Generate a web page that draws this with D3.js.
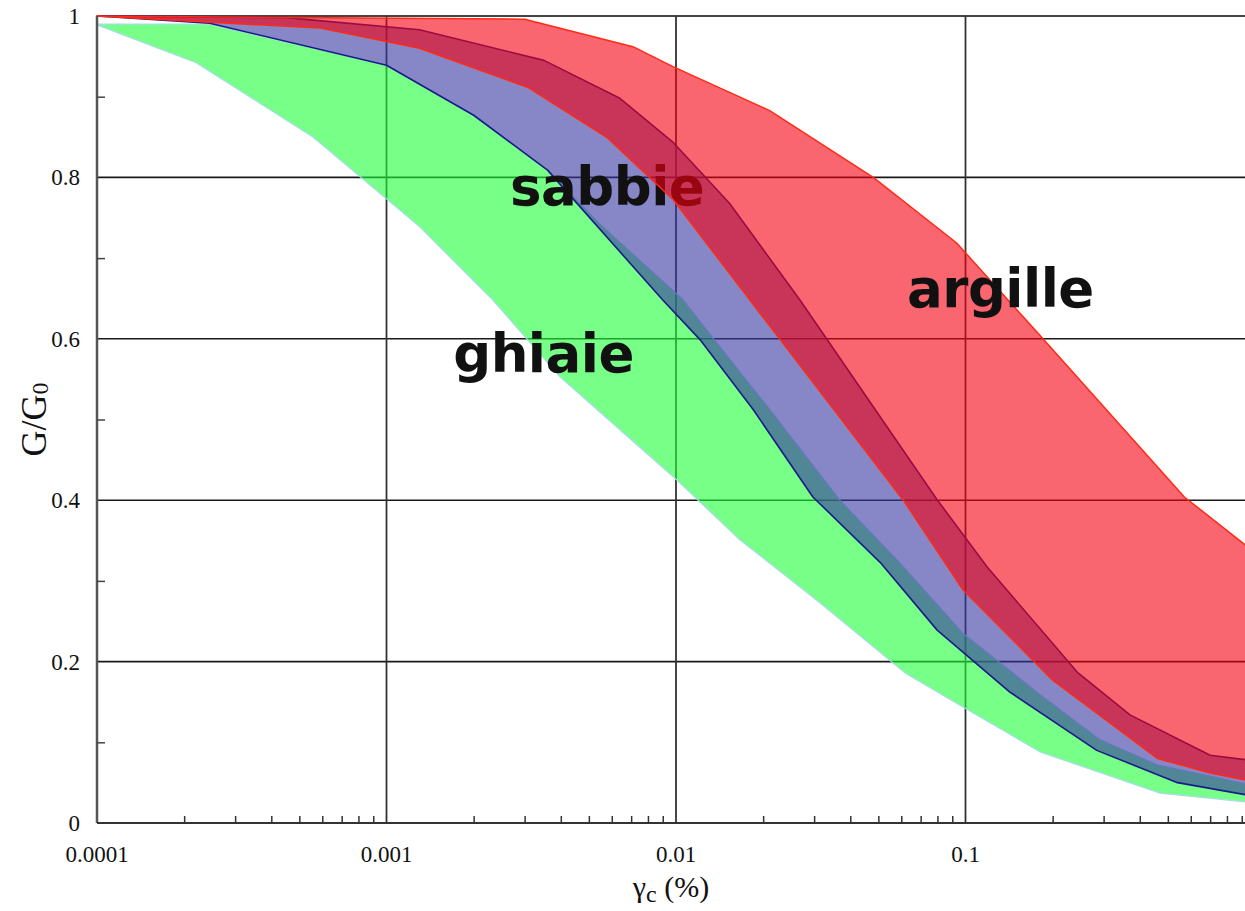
<!DOCTYPE html>
<html>
<head>
<meta charset="utf-8">
<script src="https://cdn.jsdelivr.net/npm/d3@7"></script>
<style>
    body { margin: 0; background: #fff; }
    svg { display: block; }
    .tick-label { font-family: "Liberation Serif", "Times New Roman", serif; font-size: 23px; fill: #111; }
    .band-label { font-family: "DejaVu Sans", sans-serif; font-weight: bold; font-size: 53px; fill: #111; letter-spacing: -0.5px; }
</style>
</head>
<body>
<script>

//Ticks and labels
var xTickValues = [0.0001, 0.001, 0.01, 0.1];
var xTickLabels = ["0.0001", "0.001", "0.01", "0.1"];
var yTickValues = [0, 0.2, 0.4, 0.6, 0.8, 1];
var yTickLabels = ["0", "0.2", "0.4", "0.6", "0.8", "1"];
var yMinorValues = [0.1, 0.3, 0.5, 0.7, 0.9];

//Argille (clay) band: upper and lower limit curves
var argilleUpX = [0.0001, 0.003, 0.0071, 0.0098, 0.021, 0.048, 0.093, 0.18, 0.57, 1];
var argilleUpY = [1.0, 0.996, 0.962, 0.937, 0.883, 0.800, 0.719, 0.605, 0.404, 0.335];
var argilleLowX = [0.0001, 0.00059, 0.0013, 0.0031, 0.0058, 0.0098, 0.018, 0.061, 0.098, 0.20, 0.46, 0.70, 1];
var argilleLowY = [1.0, 0.985, 0.960, 0.911, 0.849, 0.772, 0.648, 0.400, 0.289, 0.177, 0.080, 0.062, 0.051];

//Sabbie (sand) band
var sabbieUpX = [0.0001, 0.00045, 0.0013, 0.0035, 0.0064, 0.0098, 0.0153, 0.0268, 0.080, 0.119, 0.243, 0.37, 0.70, 1];
var sabbieUpY = [1.0, 0.998, 0.983, 0.945, 0.898, 0.843, 0.768, 0.648, 0.400, 0.317, 0.187, 0.134, 0.084, 0.077];
var sabbieLowX = [0.0001, 0.000245, 0.001, 0.002, 0.0036, 0.009, 0.0121, 0.0185, 0.0297, 0.0507, 0.0798, 0.1426, 0.284, 0.54, 1];
var sabbieLowY = [1.0, 0.991, 0.939, 0.877, 0.809, 0.648, 0.599, 0.512, 0.404, 0.323, 0.239, 0.162, 0.090, 0.050, 0.033];

//Ghiaie (gravel) band
var ghiaieUpX = [0.0001, 0.000245, 0.001, 0.002, 0.0036, 0.00546, 0.0106, 0.0134, 0.0211, 0.0368, 0.0594, 0.098, 0.181, 0.292, 0.46, 1];
var ghiaieUpY = [0.99, 0.99, 0.939, 0.877, 0.809, 0.742, 0.648, 0.601, 0.512, 0.400, 0.322, 0.235, 0.159, 0.103, 0.072, 0.046];
var ghiaieLowX = [0.0001, 0.00022, 0.000557, 0.0013, 0.00233, 0.00397, 0.01007, 0.0166, 0.0314, 0.0618, 0.0957, 0.181, 0.47, 1];
var ghiaieLowY = [0.989, 0.942, 0.850, 0.739, 0.648, 0.553, 0.425, 0.351, 0.273, 0.186, 0.146, 0.088, 0.037, 0.025];

//Band names and where they are written (data units)
var labelNames = ["ghiaie", "sabbie", "argille"];
var labelX = [0.0017, 0.00267, 0.0628];
var labelY = [0.559, 0.766, 0.639];

//Width and height
var w = 1245;
var h = 911;
var plotLeft = 97, plotTop = 16, plotBottom = 823;
var decade = 289.5;

var x = d3.scaleLog()
            .domain([0.0001, 1])
            .range([plotLeft, plotLeft + 4 * decade]);

var y = d3.scaleLinear()
            .domain([0, 1])
            .range([plotBottom, plotTop]);

//Create SVG element
var svg = d3.select("body")
            .append("svg")
            .attr("width", w)
            .attr("height", h);

//Grid lines (drawn first so the bands tint them)
var grid = svg.append("g").attr("class", "grid");

grid.selectAll("line.hgrid")
    .data(yTickValues.filter(function(d) { return d > 0; }))
    .enter()
    .append("line")
    .attr("class", "hgrid")
    .attr("x1", x(0.0001))
    .attr("x2", x(1))
    .attr("y1", function(d) { return y(d); })
    .attr("y2", function(d) { return y(d); })
    .style("stroke", function(d) { return d === 1 ? "#444" : "#1a1a1a"; })
    .style("stroke-width", function(d) { return d === 1 ? 2.2 : 1.6; });

grid.selectAll("line.vgrid")
    .data(xTickValues.slice(1))
    .enter()
    .append("line")
    .attr("class", "vgrid")
    .attr("x1", function(d) { return x(d); })
    .attr("x2", function(d) { return x(d); })
    .attr("y1", y(1))
    .attr("y2", y(0))
    .style("stroke", "#333")
    .style("stroke-width", 1.8);

//Turn two limit curves into one closed band
var line = d3.line()
                .x(function(d) { return x(d[0]); })
                .y(function(d) { return y(d[1]); });

function band(upX, upY, lowX, lowY) {
    var pts = [];
    for (var i = 0; i < upX.length; i++) pts.push([upX[i], upY[i]]);
    for (var j = lowX.length - 1; j >= 0; j--) pts.push([lowX[j], lowY[j]]);
    return line(pts) + "Z";
}

//Gravel
svg.append("path")
    .attr("d", band(ghiaieUpX, ghiaieUpY, ghiaieLowX, ghiaieLowY))
    .style("fill", "rgb(28,255,57)")
    .style("fill-opacity", 0.6)
    .style("stroke", "#a6dcec")
    .style("stroke-width", 1.2)
    .style("stroke-linejoin", "round");

//Sand
svg.append("path")
    .attr("d", band(sabbieUpX, sabbieUpY, sabbieLowX, sabbieLowY))
    .style("fill", "rgb(55,53,160)")
    .style("fill-opacity", 0.6)
    .style("stroke", "#1a1a8a")
    .style("stroke-width", 1.6)
    .style("stroke-linejoin", "round");

//Labels for gravel and sand sit under the clay band
var labels = svg.selectAll("text.band-label")
    .data(labelNames)
    .enter()
    .append("text")
    .attr("class", "band-label")
    .attr("x", function(d, i) { return x(labelX[i]); })
    .attr("y", function(d, i) { return y(labelY[i]); })
    .text(function(d) { return d; });

//Clay
var clay = svg.append("path")
    .attr("d", band(argilleUpX, argilleUpY, argilleLowX, argilleLowY))
    .style("fill", "rgb(245,0,17)")
    .style("fill-opacity", 0.6)
    .style("stroke", "#ff2a14")
    .style("stroke-width", 1.5)
    .style("stroke-linejoin", "round");

//Clay label goes on top
labels.filter(function(d) { return d === "argille"; }).raise();

//Axes lines
svg.append("line")
    .attr("x1", x(0.0001)).attr("x2", x(0.0001))
    .attr("y1", y(1)).attr("y2", y(0))
    .style("stroke", "#555")
    .style("stroke-width", 2.5);

svg.append("line")
    .attr("x1", x(0.0001)).attr("x2", x(1))
    .attr("y1", y(0)).attr("y2", y(0))
    .style("stroke", "#333")
    .style("stroke-width", 2.2);

//Minor ticks on the log axis
var xMinor = [];
xTickValues.forEach(function(d) {
    for (var k = 2; k <= 9; k++) xMinor.push(d * k);
});

svg.append("g")
    .attr("transform", "translate(0," + y(0) + ")")
    .call(d3.axisBottom(x).tickValues(xMinor).tickSize(-7).tickFormat(""))
    .call(function(g) { g.select(".domain").remove(); })
    .selectAll("line")
    .style("stroke", "#333")
    .style("stroke-width", 1.5);

//Minor ticks on the y axis
svg.append("g")
    .attr("transform", "translate(" + x(0.0001) + ",0)")
    .call(d3.axisLeft(y).tickValues(yMinorValues).tickSize(-8).tickFormat(""))
    .call(function(g) { g.select(".domain").remove(); })
    .selectAll("line")
    .style("stroke", "#444")
    .style("stroke-width", 1.5);

//Tick labels
svg.selectAll("text.xlab")
    .data(xTickValues)
    .enter()
    .append("text")
    .attr("class", "tick-label xlab")
    .attr("x", function(d) { return x(d); })
    .attr("y", y(0) + 39)
    .attr("text-anchor", "middle")
    .text(function(d, i) { return xTickLabels[i]; });

svg.selectAll("text.ylab")
    .data(yTickValues)
    .enter()
    .append("text")
    .attr("class", "tick-label ylab")
    .attr("x", x(0.0001) - 17)
    .attr("y", function(d) { return y(d); })
    .attr("dy", "0.35em")
    .attr("text-anchor", "end")
    .text(function(d, i) { return yTickLabels[i]; });

//Axis titles
var xTitle = svg.append("text")
    .attr("x", 671)
    .attr("y", 897)
    .attr("text-anchor", "middle")
    .style("font-family", "Liberation Serif, serif")
    .style("font-size", "30px")
    .style("fill", "#111");
xTitle.append("tspan").text("γ");
xTitle.append("tspan").attr("dy", 5).style("font-size", "24px").text("c");
xTitle.append("tspan").attr("dy", -5).text(" (%)");

var yTitle = svg.append("text")
    .attr("transform", "translate(46," + ((y(0) + y(1)) / 2) + ") rotate(-90)")
    .attr("text-anchor", "middle")
    .style("font-family", "Liberation Serif, serif")
    .style("font-size", "36px")
    .style("fill", "#111");
yTitle.append("tspan").text("G/G");
yTitle.append("tspan").attr("dy", 2).style("font-size", "24px").text("0");

</script>
</body>
</html>
